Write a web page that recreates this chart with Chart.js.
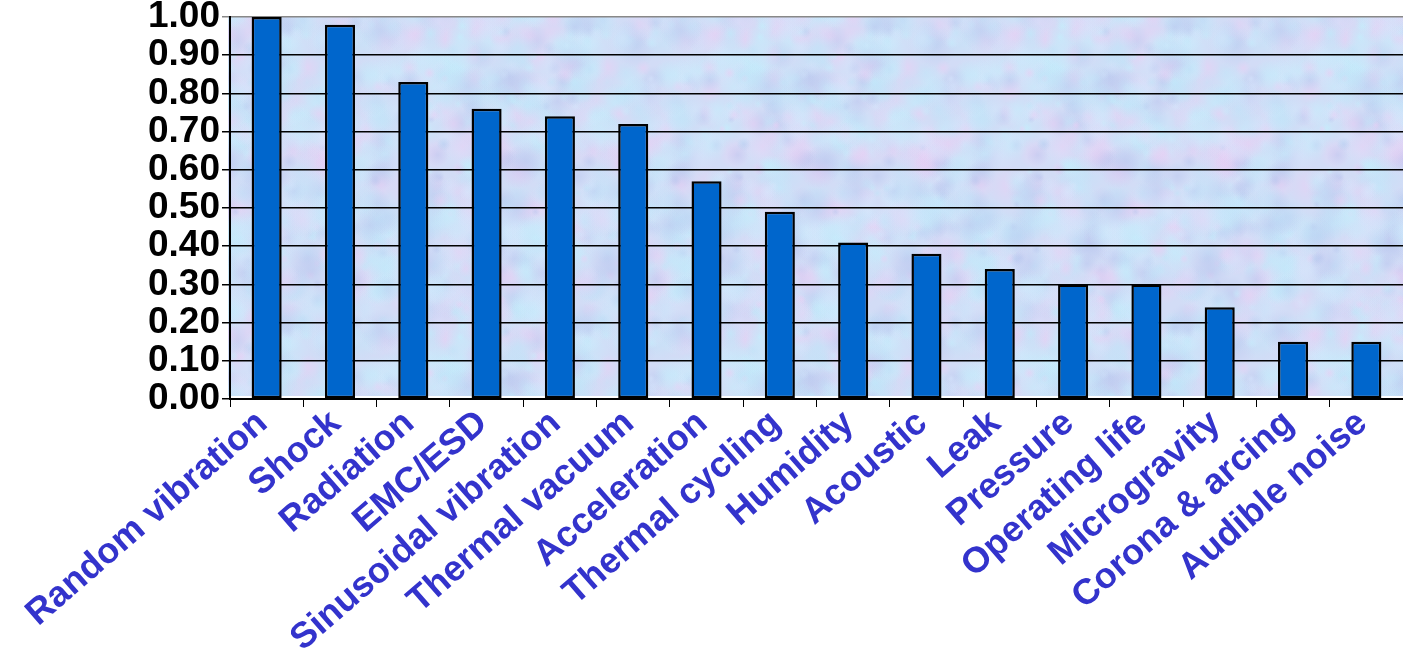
<!DOCTYPE html>
<html>
<head>
<meta charset="utf-8">
<script src="https://cdn.jsdelivr.net/npm/chart.js@4/dist/chart.umd.min.js"></script>
<style>
  html, body { margin: 0; padding: 0; background: #fff; overflow: hidden; }
  #wrap { width: 1403px; height: 648px; }
</style>
</head>
<body>
<div id="wrap"><canvas id="envChart"></canvas></div>
<script>
// 試験カテゴリと値
var categories = ['Random vibration', 'Shock', 'Radiation', 'EMC/ESD', 'Sinusoidal vibration',
    'Thermal vacuum', 'Acceleration', 'Thermal cycling', 'Humidity', 'Acoustic', 'Leak',
    'Pressure', 'Operating life', 'Microgravity', 'Corona & arcing', 'Audible noise'];
var values = [1.00, 0.98, 0.83, 0.76, 0.74, 0.72, 0.57, 0.49, 0.41, 0.38, 0.34,
    0.30, 0.30, 0.24, 0.15, 0.15];
var yTicks = [0.00, 0.10, 0.20, 0.30, 0.40, 0.50, 0.60, 0.70, 0.80, 0.90, 1.00];

var FONT = "'Liberation Sans', Arial, sans-serif";

// まだら模様のテクスチャ（固定シードで毎回同じ）
var makeTexture = function() {
    var c = document.createElement('canvas');
    c.width = 300;
    c.height = 300;
    var t = c.getContext('2d');
    t.fillStyle = '#d2dcf6';
    t.fillRect(0, 0, 300, 300);
    var seed = 12345;
    var rnd = function() {
        seed = (seed * 1103515245 + 12345) % 2147483648;
        return seed / 2147483648;
    };
    var cols = ['196,238,252', '236,206,244', '184,198,238', '214,230,252', '192,228,248'];
    for (var i = 0; i < 700; i++) {
        var x = rnd() * 300, y = rnd() * 300, r = 4 + rnd() * 18;
        var col = cols[Math.floor(rnd() * cols.length)];
        for (var dx = -300; dx <= 300; dx += 300) {
            for (var dy = -300; dy <= 300; dy += 300) {
                var g = t.createRadialGradient(x + dx, y + dy, 0, x + dx, y + dy, r);
                g.addColorStop(0, 'rgba(' + col + ',0.5)');
                g.addColorStop(1, 'rgba(' + col + ',0)');
                t.fillStyle = g;
                t.fillRect(x + dx - r, y + dy - r, 2 * r, 2 * r);
            }
        }
    }
    return c;
};

// プロット領域の背景
var plotBackground = {
    id: 'plotBackground',
    beforeDraw: function(chart) {
        var ctx = chart.ctx;
        var a = chart.chartArea;
        if (!chart.$texture) {
            chart.$texture = ctx.createPattern(makeTexture(), 'repeat');
        }
        ctx.save();
        ctx.fillStyle = chart.$texture;
        ctx.fillRect(a.left - 2, a.top, a.right - a.left + 2, a.bottom - a.top - 3);
        ctx.restore();
    }
};

var ctx = document.getElementById('envChart').getContext('2d');
var myChart = new Chart(ctx, {
    type: 'bar',
    data: {
        labels: categories,
        datasets: [{
            data: values,
            backgroundColor: '#0066cc',
            borderColor: '#000000',
            borderWidth: 2.5,
            borderSkipped: false,
            barPercentage: 0.41,
            categoryPercentage: 1.0
        }]
    },
    options: {
        responsive: true,
        maintainAspectRatio: false,
        animation: false,
        layout: { padding: { top: 17, right: -5, left: 0, bottom: 0 } },
        plugins: {
            legend: { display: false },
            tooltip: { enabled: false }
        },
        scales: {
            x: {
                offset: true,
                grid: {
                    offset: true,
                    drawOnChartArea: false,
                    drawTicks: true,
                    tickLength: 8,
                    color: '#000'
                },
                border: { display: true, color: '#000', width: 2 },
                ticks: {
                    autoSkip: false,
                    minRotation: 41,
                    maxRotation: 41,
                    padding: -5,
                    labelOffset: -4,
                    color: '#3333cc',
                    font: { family: FONT, size: 36, weight: 'bold' }
                },
                afterFit: function(scale) { scale.height = 249; }
            },
            y: {
                min: 0,
                max: 1,
                afterBuildTicks: function(scale) {
                    scale.ticks = yTicks.map(function(v) { return { value: v }; });
                },
                grid: {
                    color: function(c) { return c.tick && c.tick.value === 1 ? '#888' : '#000'; },
                    lineWidth: 1.5,
                    tickLength: 8
                },
                border: { display: true, color: '#000', width: 2 },
                ticks: {
                    autoSkip: false,
                    padding: 2,
                    color: '#000',
                    font: { family: FONT, size: 37, weight: 'bold', lineHeight: 1 },
                    callback: function(v) { return Number(v).toFixed(2); }
                },
                afterFit: function(scale) {
                    scale.width = 230;
                    scale.paddingTop = 0;
                    scale.paddingBottom = 0;
                }
            }
        }
    },
    plugins: [plotBackground]
});
</script>
</body>
</html>
